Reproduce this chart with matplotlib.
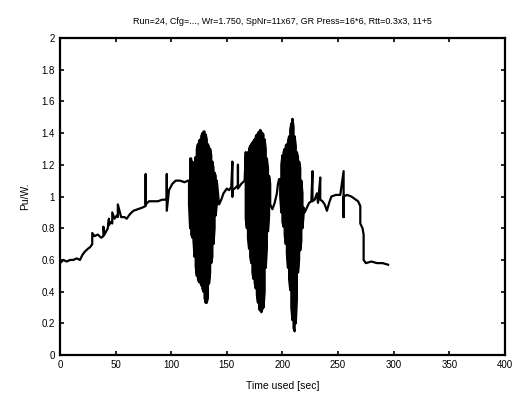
import matplotlib
matplotlib.use("Agg")
import matplotlib.pyplot as plt

# ---- data ----
t_pre = [0, 3, 6, 9, 12, 15, 18, 20, 22, 25, 27, 29, 29, 31, 34, 37, 39, 39, 40, 43, 44, 44, 46, 47, 47, 49,
         51, 52, 52, 55, 58, 60, 63, 66, 70, 74, 77, 77, 77, 80, 84, 88, 92, 96, 96, 96, 98, 101, 104, 108, 112, 115]
v_pre = [0.58, 0.60, 0.59, 0.60, 0.60, 0.61, 0.60, 0.63, 0.65, 0.67, 0.68, 0.70, 0.77, 0.75, 0.76, 0.74, 0.75, 0.81, 0.76, 0.80, 0.86, 0.82, 0.84, 0.83, 0.90, 0.86,
         0.88, 0.87, 0.95, 0.87, 0.87, 0.86, 0.89, 0.91, 0.92, 0.93, 0.94, 1.14, 0.95, 0.97, 0.97, 0.97, 0.98, 0.98, 1.14, 0.91, 1.04, 1.08, 1.10, 1.10, 1.09, 1.10]

# oscillation bursts: upper and lower swing at each time step
t_b1 = [116, 117, 118, 119, 120, 121, 122, 123, 124, 125, 126, 127, 128, 129, 130, 131, 132, 133, 134, 135, 136, 137, 138, 139, 140, 141]
hi_b1 = [1.10, 1.24, 1.24, 1.22, 1.18, 1.20, 1.25, 1.30, 1.33, 1.35, 1.36, 1.38, 1.40, 1.41, 1.41, 1.39, 1.36, 1.33, 1.31, 1.30, 1.26, 1.22, 1.18, 1.15, 1.13, 1.10]
lo_b1 = [0.95, 0.80, 0.76, 0.74, 0.72, 0.62, 0.56, 0.50, 0.48, 0.46, 0.46, 0.44, 0.42, 0.40, 0.36, 0.33, 0.33, 0.36, 0.45, 0.52, 0.58, 0.62, 0.70, 0.80, 0.88, 0.95]

t_mid1 = [143, 145, 147, 150, 152, 154, 155, 155, 155, 157, 160, 160, 160, 163, 166]
v_mid1 = [0.95, 0.98, 1.02, 1.05, 1.04, 1.06, 1.22, 1.00, 1.04, 1.05, 1.07, 1.20, 1.05, 1.08, 1.10]

t_b2 = [167, 168, 169, 170, 171, 172, 173, 174, 175, 176, 177, 178, 179, 180, 181, 182, 183, 184, 185, 186, 187, 188, 189]
hi_b2 = [1.28, 1.26, 1.28, 1.30, 1.32, 1.33, 1.34, 1.35, 1.36, 1.38, 1.39, 1.40, 1.41, 1.42, 1.41, 1.40, 1.39, 1.36, 1.30, 1.24, 1.18, 1.13, 1.08]
lo_b2 = [0.86, 0.80, 0.74, 0.67, 0.62, 0.58, 0.52, 0.48, 0.46, 0.42, 0.38, 0.33, 0.29, 0.28, 0.27, 0.29, 0.30, 0.40, 0.55, 0.67, 0.78, 0.88, 0.95]

t_mid2 = [191, 193, 195, 196, 197]
v_mid2 = [0.92, 0.96, 1.02, 1.08, 1.11]

t_b3 = [198, 199, 200, 201, 202, 203, 204, 205, 206, 207, 208, 209, 210, 211, 212, 213, 214, 215, 216, 217, 218, 219]
hi_b3 = [1.11, 1.20, 1.26, 1.28, 1.30, 1.32, 1.33, 1.35, 1.38, 1.42, 1.46, 1.49, 1.44, 1.38, 1.32, 1.28, 1.25, 1.22, 1.18, 1.10, 1.02, 0.93]
lo_b3 = [1.00, 0.90, 0.84, 0.81, 0.76, 0.70, 0.64, 0.55, 0.48, 0.41, 0.30, 0.22, 0.17, 0.15, 0.20, 0.35, 0.52, 0.60, 0.66, 0.72, 0.80, 0.88]

t_post = [220, 222, 224, 226, 227, 227, 229, 231, 232, 234, 234, 236, 238, 240, 242, 244, 248, 252, 255, 255, 255,
          258, 262, 266, 268, 270, 270, 272, 273, 273, 275, 280, 285, 290, 295]
v_post = [0.90, 0.93, 0.96, 0.97, 1.16, 0.97, 0.98, 1.02, 0.96, 1.12, 0.98, 0.97, 0.95, 0.91, 0.96, 1.00, 1.01, 1.01, 1.16, 0.87, 1.00,
          1.01, 1.00, 0.98, 0.97, 0.94, 0.83, 0.80, 0.76, 0.60, 0.58, 0.59, 0.58, 0.58, 0.57]

x_ticks = [0, 50, 100, 150, 200, 250, 300, 350, 400]
y_ticks = [0, 0.2, 0.4, 0.6, 0.8, 1, 1.2, 1.4, 1.6, 1.8, 2]
y_ticklabels = ["0", "0.2", "0.4", "0.6", "0.8", "1", "1.2", "1.4", "1.6", "1.8", "2"]

title = "Run=24, Cfg=..., Wr=1.750, SpNr=11x67, GR Press=16*6, Rtt=0.3x3, 11+5"
xlabel = "Time used [sec]"
ylabel = "Pu/W."


def zigzag(ts, hi, lo):
    xs, ys = [], []
    for i, (t, h, l) in enumerate(zip(ts, hi, lo)):
        xs += [t, t]
        ys += [h, l] if i % 2 == 0 else [l, h]
    return xs, ys


# ---- plot ----
plt.rcParams['font.family'] = ['Liberation Sans', 'DejaVu Sans']
fig = plt.figure(figsize=(5.24, 3.99), dpi=100)
ax = fig.add_axes([0.1145, 0.110, 0.849, 0.795])

zx1, zy1 = zigzag(t_b1, hi_b1, lo_b1)
zx2, zy2 = zigzag(t_b2, hi_b2, lo_b2)
zx3, zy3 = zigzag(t_b3, hi_b3, lo_b3)
t_all = t_pre + zx1 + t_mid1 + zx2 + t_mid2 + zx3 + t_post
v_all = v_pre + zy1 + v_mid1 + zy2 + v_mid2 + zy3 + v_post
ax.plot(t_all, v_all, color='black', linewidth=1.6)

ax.set_xlim(0, 400)
ax.set_ylim(0, 2)
ax.set_xticks(x_ticks)
ax.set_yticks(y_ticks)
ax.set_yticklabels(y_ticklabels)
ax.tick_params(direction='in', length=3, width=1.2, labelsize=7, top=True, right=True)
for s in ax.spines.values():
    s.set_linewidth(1.6)
ax.set_title(title, fontsize=6.5, pad=10)
ax.set_xlabel(xlabel, fontsize=7.5, labelpad=8)
ax.set_ylabel(ylabel, fontsize=7.5, labelpad=8)

fig.savefig("out.png", dpi=100)
